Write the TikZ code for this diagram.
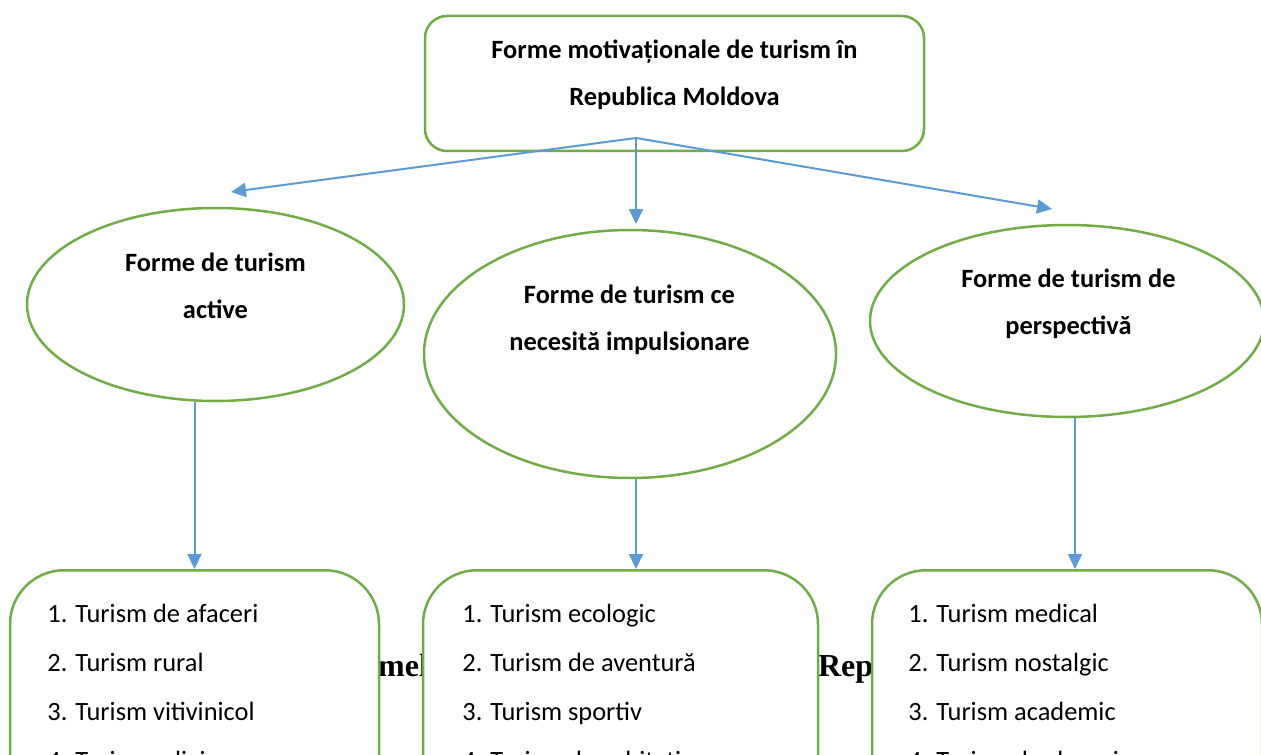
\documentclass[tikz,border=0pt]{standalone}
\usepackage{fontspec}
\setmainfont{Carlito}
\newfontfamily\capfont{Liberation Serif}
\usepackage{tikz}
\usetikzlibrary{shapes.geometric,arrows.meta}
\definecolor{leafgreen}{RGB}{112,173,71}
\definecolor{skyblue}{RGB}{91,155,213}

\begin{document}
\begin{tikzpicture}[x=0.5pt,y=-0.5pt,
  frame/.style={draw=leafgreen, line width=1.25pt, fill=white, rounded corners=11pt},
  oval/.style={ellipse, draw=leafgreen, line width=1.25pt, fill=white, inner sep=0pt},
  listbox/.style={draw=leafgreen, line width=1.25pt, fill=white, rounded corners=27pt, anchor=north, minimum height=170pt},
  head/.style={font=\fontsize{13.2}{23.5}\selectfont\bfseries, align=center},
  item/.style={font=\fontsize{13.2}{16}\selectfont, anchor=base west, inner sep=0pt},
  link/.style={draw=skyblue, line width=1pt, -{Triangle[length=7.5pt,width=7pt]}}]
  \useasboundingbox (0,0) rectangle (1261,754);
  \clip (0,0) rectangle (1261,754);

  % caption line lying behind the boxes
  \node[font=\capfont\fontsize{16}{19}\selectfont\bfseries, anchor=base west, inner sep=0pt]
    (cap) at (328,676) {Formele motivaționale de turism în Republica Moldova};

  % top box
  \node[frame, minimum width=249.5pt, minimum height=67.5pt] (top) at (674.5,83.5) {};
  \node[head] (toptext) at (674.5,74.5) {Forme motivaționale de turism în\\Republica Moldova};

  % three forms
  \node[oval, minimum width=188.5pt, minimum height=96.5pt] (ell1) at (215.5,304.5) {};
  \node[oval, minimum width=206pt, minimum height=124pt] (ell2) at (630,354) {};
  \node[oval, minimum width=197pt, minimum height=96pt] (ell3) at (1067,321) {};
  \node[head] (t1) at (215.5,286) {Forme de turism\\active};
  \node[head] (t2) at (629.5,319.5) {Forme de turism ce\\necesită impulsionare};
  \node[head] (t3) at (1068.5,303.5) {Forme de turism de\\perspectivă};

  % lists
  \node[listbox, minimum width=184.5pt] (box1) at (194.5,569) {};
  \node[listbox, minimum width=197.5pt] (box2) at (620.5,569) {};
  \node[listbox, minimum width=195pt] (box3) at (1067,569) {};

  \foreach \txt [count=\i] in {1. Turism de afaceri, 2. Turism rural, 3. Turism vitivinicol, 4. Turism religios}
    \node[item] (a\i) at (47,622+49*\i-49) {\txt};
  \foreach \txt [count=\i] in {1. Turism ecologic, 2. Turism de aventură, 3. Turism sportiv, 4. Turism de echitație}
    \node[item] (b\i) at (462,622+49*\i-49) {\txt};
  \foreach \txt [count=\i] in {1. Turism medical, 2. Turism nostalgic, 3. Turism academic, 4. Turism de shopping}
    \node[item] (c\i) at (908,622+49*\i-49) {\txt};

  % connectors
  \coordinate (fan) at (636,138);
  \coordinate (tipa) at (231,192);
  \coordinate (tipb) at (636,224);
  \coordinate (tipc) at (1052,209);
  \coordinate (mid) at (636,0);
  \coordinate (right) at (1075,0);
  \draw[link] (fan) -- (tipa);
  \draw[link] (fan) -- (tipb);
  \draw[link] (fan) -- (tipc);
  \draw[link] (box1.north |- ell1.south) -- (box1.north);
  \draw[link] (mid |- ell2.south) -- (mid |- box2.north);
  \draw[link] (right |- ell3.south) -- (right |- box3.north);
\end{tikzpicture}
\end{document}
